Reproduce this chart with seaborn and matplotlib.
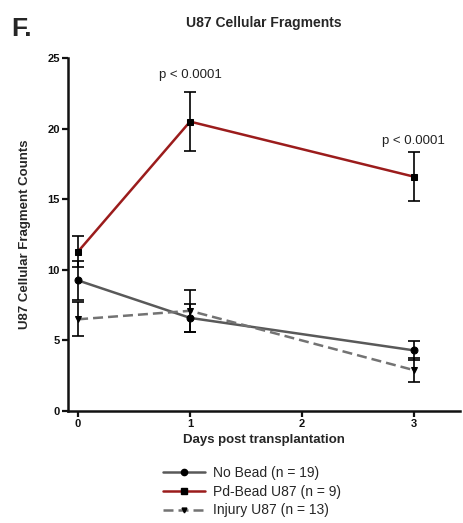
import matplotlib
matplotlib.use("Agg")
import matplotlib.pyplot as plt
import seaborn as sns
import pandas as pd
from matplotlib.lines import Line2D

sns.set_theme(style="ticks")
plt.rcParams["font.family"] = ["Liberation Sans", "DejaVu Sans"]

days = [0, 1, 3]
groups = ["No Bead (n = 19)", "Pd-Bead U87 (n = 9)", "Injury U87 (n = 13)"]
no_bead_mean = [9.25, 6.6, 4.3]
no_bead_sem = [1.35, 1.0, 0.65]
pd_bead_mean = [11.3, 20.5, 16.6]
pd_bead_sem = [1.1, 2.1, 1.75]
injury_mean = [6.5, 7.1, 2.9]
injury_sem = [1.2, 1.5, 0.85]
p_labels = ["p < 0.0001", "p < 0.0001"]
p_days = [1, 3]
p_heights = [23.8, 19.1]

colors = {groups[0]: "#595959", groups[1]: "#9b1c1c", groups[2]: "#737373"}
markers = {groups[0]: "o", groups[1]: "s", groups[2]: "v"}
msizes = {groups[0]: 5, groups[1]: 5, groups[2]: 4}
dashes = {groups[0]: "", groups[1]: "", groups[2]: (4, 2)}

df = pd.DataFrame({
    "day": days * 3,
    "count": no_bead_mean + pd_bead_mean + injury_mean,
    "sem": no_bead_sem + pd_bead_sem + injury_sem,
    "group": [g for g in groups for _ in days],
})

fig = plt.figure(figsize=(4.64, 5.23), dpi=100)
ax = fig.add_axes([0.1466, 0.214, 0.8444, 0.675])

sns.lineplot(data=df, x="day", y="count", hue="group", style="group",
             palette=colors, markers=markers, dashes=dashes,
             markersize=5, linewidth=1.8, ax=ax, legend=False)
for line, g in zip(ax.lines, groups):
    line.set_markerfacecolor("black")
    line.set_markeredgecolor("black")
    line.set_markersize(msizes[g])

for g in groups:
    sub = df[df["group"] == g]
    ax.errorbar(sub["day"], sub["count"], yerr=sub["sem"], fmt="none",
                ecolor="black", elinewidth=1.2, capsize=4, capthick=1.2, zorder=4)

for d, h, t in zip(p_days, p_heights, p_labels):
    ax.text(d, h, t, ha="center", va="center", fontsize=9.5, color="#222222")

ax.set_xlim(-0.09, 3.41)
ax.set_ylim(0, 25)
ax.set_xticks([0, 1, 2, 3])
ax.set_yticks([0, 5, 10, 15, 20, 25])
sns.despine(ax=ax)
for s in ["left", "bottom"]:
    ax.spines[s].set_linewidth(1.8)
    ax.spines[s].set_color("#111111")
ax.tick_params(axis="both", width=1.6, length=4, labelsize=8, pad=2, colors="#111111")
for lab in ax.get_xticklabels() + ax.get_yticklabels():
    lab.set_fontweight("bold")

ax.set_xlabel("Days post transplantation", fontsize=9.5, fontweight="bold", labelpad=3)
ax.set_ylabel("U87 Cellular Fragment Counts", fontsize=9.5, fontweight="bold", labelpad=12)
ax.set_title("U87 Cellular Fragments", fontsize=10, fontweight="bold", pad=22)

fig.text(0.025, 0.945, "F.", fontsize=19, fontweight="bold", ha="left", va="center")

handles = [Line2D([0], [0], color=colors[g], lw=1.8, marker=markers[g],
                  markerfacecolor="black", markeredgecolor="black", markersize=msizes[g] - 0.5,
                  dashes=dashes[g] if dashes[g] else (None, None))
           for g in groups]
fig.legend(handles, groups, loc="center left", bbox_to_anchor=(0.325, 0.06),
           frameon=False, fontsize=10, handlelength=3.0, labelspacing=0.35,
           handletextpad=0.6)

fig.savefig("out.png", dpi=100)
